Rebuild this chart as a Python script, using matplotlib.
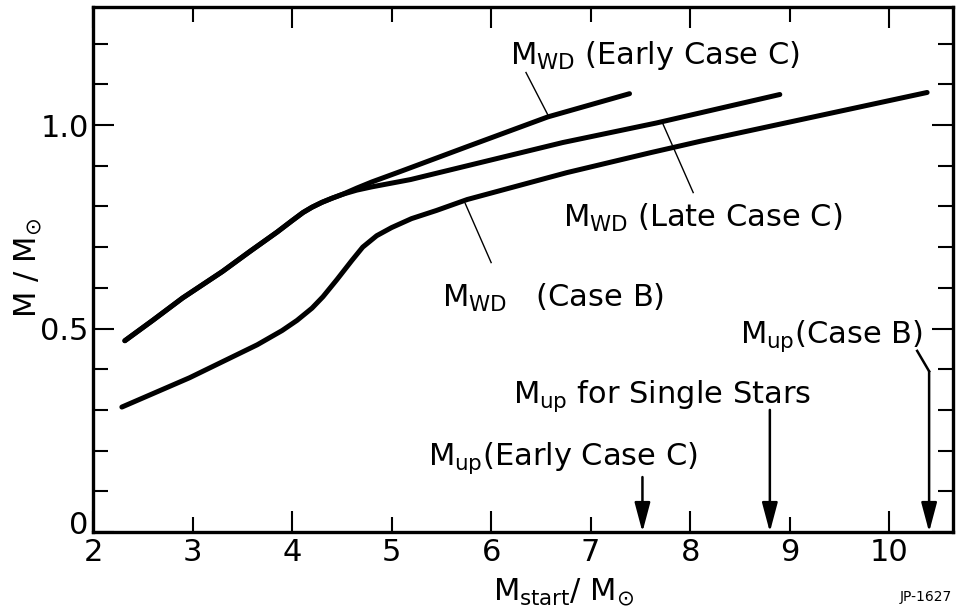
import matplotlib
matplotlib.use('Agg')
import matplotlib.pyplot as plt
from matplotlib.ticker import FixedLocator, NullFormatter, FixedFormatter

plt.rcParams['font.family'] = ['DejaVu Sans']
plt.rcParams['mathtext.fontset'] = 'custom'
plt.rcParams['mathtext.rm'] = 'DejaVu Sans'
plt.rcParams['mathtext.it'] = 'DejaVu Sans'
plt.rcParams['mathtext.sf'] = 'DejaVu Sans'
plt.rcParams['mathtext.bf'] = 'DejaVu Sans:bold'

# ---- data ----
early_x = [2.32, 2.6, 2.9, 3.3, 3.58, 3.85, 4.0, 4.11, 4.2, 4.3, 4.4, 4.51, 4.65, 4.8,
           5.09, 5.76, 6.57, 7.39]
early_y = [0.47, 0.52, 0.575, 0.64, 0.69, 0.737, 0.765, 0.785, 0.798, 0.81, 0.82, 0.83, 0.845, 0.86,
           0.886, 0.947, 1.02, 1.077]

late_x = [2.32, 2.6, 2.9, 3.3, 3.58, 3.85, 4.0, 4.11, 4.2, 4.3, 4.4, 4.51, 4.65, 4.8,
          5.19, 6.72, 7.66, 8.9]
late_y = [0.47, 0.52, 0.575, 0.64, 0.69, 0.737, 0.765, 0.785, 0.798, 0.81, 0.82, 0.83, 0.84, 0.848,
          0.866, 0.957, 1.005, 1.075]

caseb_x = [2.29, 2.97, 3.65, 3.9, 4.05, 4.2, 4.31, 4.45, 4.6, 4.71, 4.85, 5.0, 5.2, 5.45,
           5.76, 6.76, 7.6, 8.1, 10.38]
caseb_y = [0.307, 0.379, 0.46, 0.495, 0.52, 0.55, 0.578, 0.62, 0.667, 0.70, 0.728, 0.748, 0.77, 0.79,
           0.817, 0.883, 0.932, 0.96, 1.08]

# upper-mass limits (arrows)
mup_early_x, mup_early_top = 7.52, 0.135
mup_single_x, mup_single_top = 8.80, 0.30
mup_caseb_x, mup_caseb_top = 10.40, 0.395

x_ticks = [2, 3, 4, 5, 6, 7, 8, 9, 10]
y_major = [0, 0.5, 1.0]
y_labels = ['0', '0.5', '1.0']

# ---- figure ----
fig = plt.figure(figsize=(9.63, 6.13), dpi=100)
ax = fig.add_axes([93/963, 1-532/613, (953-93)/963, (532-7)/613])
ax.set_xlim(2, 10.64)
ax.set_ylim(0, 1.29)

lw = 3.6
for xs, ys in [(early_x, early_y), (late_x, late_y), (caseb_x, caseb_y)]:
    ax.plot(xs, ys, color='black', lw=lw, solid_capstyle='round', solid_joinstyle='round')

# leader lines
ax.plot([6.35, 6.58], [1.129, 1.02], color='black', lw=1.0)
ax.plot([7.72, 8.03], [1.006, 0.834], color='black', lw=1.0)
ax.plot([5.74, 6.00], [0.807, 0.662], color='black', lw=1.0)

fs = 22
ax.text(6.19, 1.149, r'$M_{WD}$ (Early Case C)', fontsize=fs)
ax.text(6.72, 0.750, r'$M_{WD}$ (Late Case C)', fontsize=fs)
ax.text(5.51, 0.553, r'$M_{WD}$   (Case B)', fontsize=fs)
ax.text(6.22, 0.317, r'$M_{up}$ for Single Stars', fontsize=fs)
ax.text(5.37, 0.165, r'$M_{up}$(Early Case C)', fontsize=fs)
ax.text(10.34, 0.465, r'$M_{up}$(Case B)', fontsize=fs, ha='right')

arrow_kw = dict(arrowstyle='-|>,head_length=0.9,head_width=0.24', color='black',
                lw=1.8, mutation_scale=20, shrinkA=0, shrinkB=0)
ax.annotate('', xy=(mup_early_x, 0), xytext=(mup_early_x, mup_early_top), arrowprops=arrow_kw)
ax.annotate('', xy=(mup_single_x, 0), xytext=(mup_single_x, mup_single_top), arrowprops=arrow_kw)
ax.plot([10.28, mup_caseb_x], [0.445, mup_caseb_top], color='black', lw=1.8)
ax.annotate('', xy=(mup_caseb_x, 0), xytext=(mup_caseb_x, mup_caseb_top), arrowprops=arrow_kw)

# ticks
ax.xaxis.set_major_locator(FixedLocator([t for t in x_ticks if t % 2 == 0]))
ax.xaxis.set_minor_locator(FixedLocator([t for t in x_ticks if t % 2 == 1]))
ax.xaxis.set_major_formatter(FixedFormatter([str(t) for t in x_ticks if t % 2 == 0]))
ax.xaxis.set_minor_formatter(FixedFormatter([str(t) for t in x_ticks if t % 2 == 1]))
ax.yaxis.set_major_locator(FixedLocator(y_major))
# the "0" label is drawn separately, slightly raised as in the original
ax.yaxis.set_major_formatter(FixedFormatter([''] + y_labels[1:]))
ax.yaxis.set_minor_locator(FixedLocator([i/10 for i in range(1, 13)]))
ax.yaxis.set_minor_formatter(NullFormatter())
ax.annotate(y_labels[0], xy=(0, 0), xycoords='axes fraction', xytext=(-3.5, 5),
            textcoords='offset points', ha='right', va='center', fontsize=fs)

ax.tick_params(axis='both', which='both', direction='in', top=True, right=True,
               width=1.5, labelsize=fs, pad=4, color='black')
ax.tick_params(axis='both', which='major', length=15)
ax.tick_params(axis='both', which='minor', length=11)
ax.tick_params(axis='y', which='both', pad=3)

for s in ax.spines.values():
    s.set_linewidth(2.4)

fig.text(28/963, 1-268/613, r'$M$ / $M_{\odot}$', rotation=90, fontsize=fs,
         ha='center', va='center')
fig.text(564/963, 1-600/613, r'$M_{start}$/ $M_{\odot}$', fontsize=fs,
         ha='center', va='baseline')
fig.text(952/963, 1-601/613, 'JP-1627', fontsize=10, ha='right', va='baseline')

fig.savefig('out.png', dpi=100)
